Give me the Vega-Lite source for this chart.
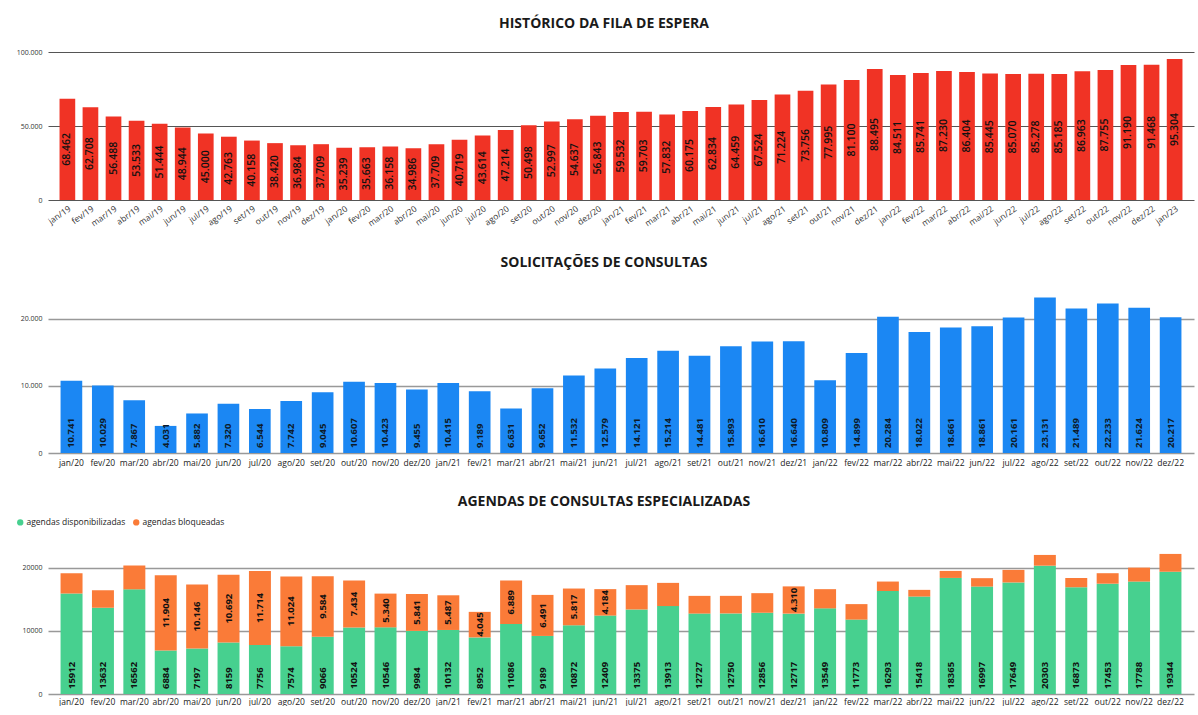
{
  "$schema": "https://vega.github.io/schema/vega-lite/v6.json",
  "background": "white",
  "padding": {"left": 14, "top": 17, "right": 4, "bottom": 0},
  "spacing": 28,
  "resolve": {"scale": {"color": "independent"}, "legend": {"color": "independent"}},
  "config": {
    "locale": {"number": {"decimal": ",", "thousands": ".", "grouping": [3], "currency": ["R$", ""]}},
    "font": "Open Sans",
    "view": {"stroke": null},
    "axis": {"labelFont": "Open Sans", "labelColor": "#333333", "domain": false, "ticks": false, "title": null},
    "title": {"font": "Open Sans", "fontSize": 14, "fontWeight": "bold", "color": "#1a1a1a", "anchor": "middle", "frame": "bounds"}
  },
  "datasets": {
    "fila": [
      {"mes": "jan/19", "total": 68462}, {"mes": "fev/19", "total": 62708}, {"mes": "mar/19", "total": 56488},
      {"mes": "abr/19", "total": 53533}, {"mes": "mai/19", "total": 51444}, {"mes": "jun/19", "total": 48944},
      {"mes": "jul/19", "total": 45000}, {"mes": "ago/19", "total": 42763}, {"mes": "set/19", "total": 40158},
      {"mes": "out/19", "total": 38420}, {"mes": "nov/19", "total": 36984}, {"mes": "dez/19", "total": 37709},
      {"mes": "jan/20", "total": 35239}, {"mes": "fev/20", "total": 35663}, {"mes": "mar/20", "total": 36158},
      {"mes": "abr/20", "total": 34986}, {"mes": "mai/20", "total": 37709}, {"mes": "jun/20", "total": 40719},
      {"mes": "jul/20", "total": 43614}, {"mes": "ago/20", "total": 47214}, {"mes": "set/20", "total": 50498},
      {"mes": "out/20", "total": 52997}, {"mes": "nov/20", "total": 54637}, {"mes": "dez/20", "total": 56843},
      {"mes": "jan/21", "total": 59532}, {"mes": "fev/21", "total": 59703}, {"mes": "mar/21", "total": 57832},
      {"mes": "abr/21", "total": 60175}, {"mes": "mai/21", "total": 62834}, {"mes": "jun/21", "total": 64459},
      {"mes": "jul/21", "total": 67524}, {"mes": "ago/21", "total": 71224}, {"mes": "set/21", "total": 73756},
      {"mes": "out/21", "total": 77995}, {"mes": "nov/21", "total": 81100}, {"mes": "dez/21", "total": 88495},
      {"mes": "jan/22", "total": 84511}, {"mes": "fev/22", "total": 85741}, {"mes": "mar/22", "total": 87230},
      {"mes": "abr/22", "total": 86404}, {"mes": "mai/22", "total": 85445}, {"mes": "jun/22", "total": 85070},
      {"mes": "jul/22", "total": 85278}, {"mes": "ago/22", "total": 85185}, {"mes": "set/22", "total": 86963},
      {"mes": "out/22", "total": 87755}, {"mes": "nov/22", "total": 91190}, {"mes": "dez/22", "total": 91468},
      {"mes": "jan/23", "total": 95304}
    ],
    "solic": [
      {"mes": "jan/20", "total": 10741}, {"mes": "fev/20", "total": 10029}, {"mes": "mar/20", "total": 7867},
      {"mes": "abr/20", "total": 4031}, {"mes": "mai/20", "total": 5882}, {"mes": "jun/20", "total": 7320},
      {"mes": "jul/20", "total": 6544}, {"mes": "ago/20", "total": 7742}, {"mes": "set/20", "total": 9045},
      {"mes": "out/20", "total": 10607}, {"mes": "nov/20", "total": 10423}, {"mes": "dez/20", "total": 9455},
      {"mes": "jan/21", "total": 10415}, {"mes": "fev/21", "total": 9189}, {"mes": "mar/21", "total": 6631},
      {"mes": "abr/21", "total": 9652}, {"mes": "mai/21", "total": 11532}, {"mes": "jun/21", "total": 12579},
      {"mes": "jul/21", "total": 14121}, {"mes": "ago/21", "total": 15214}, {"mes": "set/21", "total": 14481},
      {"mes": "out/21", "total": 15893}, {"mes": "nov/21", "total": 16610}, {"mes": "dez/21", "total": 16640},
      {"mes": "jan/22", "total": 10809}, {"mes": "fev/22", "total": 14899}, {"mes": "mar/22", "total": 20284},
      {"mes": "abr/22", "total": 18022}, {"mes": "mai/22", "total": 18661}, {"mes": "jun/22", "total": 18861},
      {"mes": "jul/22", "total": 20161}, {"mes": "ago/22", "total": 23131}, {"mes": "set/22", "total": 21489},
      {"mes": "out/22", "total": 22233}, {"mes": "nov/22", "total": 21624}, {"mes": "dez/22", "total": 20217}
    ],
    "agendas": [
      {"mes": "jan/20", "tipo": "agendas disponibilizadas", "valor": 15912}, {"mes": "jan/20", "tipo": "agendas bloqueadas", "valor": 3200},
      {"mes": "fev/20", "tipo": "agendas disponibilizadas", "valor": 13632}, {"mes": "fev/20", "tipo": "agendas bloqueadas", "valor": 2800},
      {"mes": "mar/20", "tipo": "agendas disponibilizadas", "valor": 16562}, {"mes": "mar/20", "tipo": "agendas bloqueadas", "valor": 3770},
      {"mes": "abr/20", "tipo": "agendas disponibilizadas", "valor": 6884}, {"mes": "abr/20", "tipo": "agendas bloqueadas", "valor": 11904},
      {"mes": "mai/20", "tipo": "agendas disponibilizadas", "valor": 7197}, {"mes": "mai/20", "tipo": "agendas bloqueadas", "valor": 10146},
      {"mes": "jun/20", "tipo": "agendas disponibilizadas", "valor": 8159}, {"mes": "jun/20", "tipo": "agendas bloqueadas", "valor": 10692},
      {"mes": "jul/20", "tipo": "agendas disponibilizadas", "valor": 7756}, {"mes": "jul/20", "tipo": "agendas bloqueadas", "valor": 11714},
      {"mes": "ago/20", "tipo": "agendas disponibilizadas", "valor": 7574}, {"mes": "ago/20", "tipo": "agendas bloqueadas", "valor": 11024},
      {"mes": "set/20", "tipo": "agendas disponibilizadas", "valor": 9066}, {"mes": "set/20", "tipo": "agendas bloqueadas", "valor": 9584},
      {"mes": "out/20", "tipo": "agendas disponibilizadas", "valor": 10524}, {"mes": "out/20", "tipo": "agendas bloqueadas", "valor": 7434},
      {"mes": "nov/20", "tipo": "agendas disponibilizadas", "valor": 10546}, {"mes": "nov/20", "tipo": "agendas bloqueadas", "valor": 5340},
      {"mes": "dez/20", "tipo": "agendas disponibilizadas", "valor": 9984}, {"mes": "dez/20", "tipo": "agendas bloqueadas", "valor": 5841},
      {"mes": "jan/21", "tipo": "agendas disponibilizadas", "valor": 10132}, {"mes": "jan/21", "tipo": "agendas bloqueadas", "valor": 5487},
      {"mes": "fev/21", "tipo": "agendas disponibilizadas", "valor": 8952}, {"mes": "fev/21", "tipo": "agendas bloqueadas", "valor": 4045},
      {"mes": "mar/21", "tipo": "agendas disponibilizadas", "valor": 11086}, {"mes": "mar/21", "tipo": "agendas bloqueadas", "valor": 6889},
      {"mes": "abr/21", "tipo": "agendas disponibilizadas", "valor": 9189}, {"mes": "abr/21", "tipo": "agendas bloqueadas", "valor": 6491},
      {"mes": "mai/21", "tipo": "agendas disponibilizadas", "valor": 10872}, {"mes": "mai/21", "tipo": "agendas bloqueadas", "valor": 5817},
      {"mes": "jun/21", "tipo": "agendas disponibilizadas", "valor": 12409}, {"mes": "jun/21", "tipo": "agendas bloqueadas", "valor": 4184},
      {"mes": "jul/21", "tipo": "agendas disponibilizadas", "valor": 13375}, {"mes": "jul/21", "tipo": "agendas bloqueadas", "valor": 3850},
      {"mes": "ago/21", "tipo": "agendas disponibilizadas", "valor": 13913}, {"mes": "ago/21", "tipo": "agendas bloqueadas", "valor": 3670},
      {"mes": "set/21", "tipo": "agendas disponibilizadas", "valor": 12727}, {"mes": "set/21", "tipo": "agendas bloqueadas", "valor": 2800},
      {"mes": "out/21", "tipo": "agendas disponibilizadas", "valor": 12750}, {"mes": "out/21", "tipo": "agendas bloqueadas", "valor": 2780},
      {"mes": "nov/21", "tipo": "agendas disponibilizadas", "valor": 12856}, {"mes": "nov/21", "tipo": "agendas bloqueadas", "valor": 3100},
      {"mes": "dez/21", "tipo": "agendas disponibilizadas", "valor": 12717}, {"mes": "dez/21", "tipo": "agendas bloqueadas", "valor": 4310},
      {"mes": "jan/22", "tipo": "agendas disponibilizadas", "valor": 13549}, {"mes": "jan/22", "tipo": "agendas bloqueadas", "valor": 3040},
      {"mes": "fev/22", "tipo": "agendas disponibilizadas", "valor": 11773}, {"mes": "fev/22", "tipo": "agendas bloqueadas", "valor": 2450},
      {"mes": "mar/22", "tipo": "agendas disponibilizadas", "valor": 16293}, {"mes": "mar/22", "tipo": "agendas bloqueadas", "valor": 1500},
      {"mes": "abr/22", "tipo": "agendas disponibilizadas", "valor": 15418}, {"mes": "abr/22", "tipo": "agendas bloqueadas", "valor": 1060},
      {"mes": "mai/22", "tipo": "agendas disponibilizadas", "valor": 18365}, {"mes": "mai/22", "tipo": "agendas bloqueadas", "valor": 1110},
      {"mes": "jun/22", "tipo": "agendas disponibilizadas", "valor": 16997}, {"mes": "jun/22", "tipo": "agendas bloqueadas", "valor": 1330},
      {"mes": "jul/22", "tipo": "agendas disponibilizadas", "valor": 17649}, {"mes": "jul/22", "tipo": "agendas bloqueadas", "valor": 1990},
      {"mes": "ago/22", "tipo": "agendas disponibilizadas", "valor": 20303}, {"mes": "ago/22", "tipo": "agendas bloqueadas", "valor": 1700},
      {"mes": "set/22", "tipo": "agendas disponibilizadas", "valor": 16873}, {"mes": "set/22", "tipo": "agendas bloqueadas", "valor": 1500},
      {"mes": "out/22", "tipo": "agendas disponibilizadas", "valor": 17453}, {"mes": "out/22", "tipo": "agendas bloqueadas", "valor": 1660},
      {"mes": "nov/22", "tipo": "agendas disponibilizadas", "valor": 17788}, {"mes": "nov/22", "tipo": "agendas bloqueadas", "valor": 2210},
      {"mes": "dez/22", "tipo": "agendas disponibilizadas", "valor": 19344}, {"mes": "dez/22", "tipo": "agendas bloqueadas", "valor": 2820}
    ]
  },
  "vconcat": [
    {
      "width": 1146,
      "height": 148,
      "title": {"text": "HISTÓRICO DA FILA DE ESPERA", "offset": 17},
      "data": {"name": "fila"},
      "encoding": {
        "x": {"field": "mes", "type": "nominal", "sort": null,
              "scale": {"paddingInner": 0.32, "paddingOuter": 0.5},
              "axis": {"labelAngle": -35, "labelFontSize": 8.5, "labelPadding": 4, "labelColor": "#333333"}}
      },
      "layer": [
        {
          "mark": {"type": "bar", "color": "#f03325"},
          "encoding": {
            "y": {"field": "total", "type": "quantitative", "scale": {"domain": [0, 100000], "nice": false},
                  "axis": {"values": [0, 50000, 100000], "format": ",d", "labelFontSize": 7, "gridColor": "#555555", "gridWidth": 1, "labelPadding": 6, "minExtent": 34, "maxExtent": 34}}
          }
        },
        {
          "mark": {"type": "text", "angle": 270, "align": "center", "baseline": "middle", "fontSize": 10.5, "fontWeight": 600, "color": "#111111"},
          "encoding": {
            "y": {"field": "total", "type": "quantitative", "stack": "zero", "bandPosition": 0.5},
            "text": {"field": "total", "type": "quantitative", "format": ",d"}
          }
        }
      ]
    },
    {
      "width": 1146,
      "height": 168,
      "title": {"text": "SOLICITAÇÕES DE CONSULTAS", "offset": 15},
      "data": {"name": "solic"},
      "encoding": {
        "x": {"field": "mes", "type": "nominal", "sort": null,
              "scale": {"paddingInner": 0.31, "paddingOuter": 0.4},
              "axis": {"labelAngle": 0, "labelFontSize": 8.5, "labelPadding": 5, "labelColor": "#222222"}}
      },
      "layer": [
        {
          "mark": {"type": "bar", "color": "#1b87f3"},
          "encoding": {
            "y": {"field": "total", "type": "quantitative", "scale": {"domain": [0, 25000], "nice": false},
                  "axis": {"values": [0, 10000, 20000], "format": ",d", "labelFontSize": 7, "gridColor": "#999999", "gridWidth": 1.5, "labelPadding": 6, "minExtent": 34, "maxExtent": 34}}
          }
        },
        {
          "mark": {"type": "text", "angle": 270, "align": "left", "baseline": "middle", "dx": 5, "fontSize": 9.5, "fontWeight": "bold", "color": "#0d1b2a"},
          "encoding": {
            "y": {"datum": 0, "type": "quantitative"},
            "text": {"field": "total", "type": "quantitative", "format": ",d"}
          }
        }
      ]
    },
    {
      "width": 1146,
      "height": 158,
      "title": {"text": "AGENDAS DE CONSULTAS ESPECIALIZADAS", "offset": 9},
      "data": {"name": "agendas"},
      "encoding": {
        "x": {"field": "mes", "type": "nominal", "sort": null,
              "scale": {"paddingInner": 0.3, "paddingOuter": 0.4},
              "axis": {"labelAngle": 0, "labelFontSize": 8.5, "labelPadding": 3, "labelColor": "#222222"}}
      },
      "layer": [
        {
          "mark": {"type": "bar"},
          "encoding": {
            "y": {"field": "valor", "type": "quantitative", "stack": "zero", "scale": {"domain": [0, 25000], "nice": false},
                  "axis": {"values": [0, 10000, 20000], "format": "d", "labelFontSize": 7, "gridColor": "#999999", "gridWidth": 1.5, "labelPadding": 6, "minExtent": 34, "maxExtent": 34}},
            "color": {"field": "tipo", "type": "nominal",
                      "scale": {"domain": ["agendas disponibilizadas", "agendas bloqueadas"], "range": ["#47d08f", "#fa7b38"]},
                      "legend": {"title": null, "orient": "none", "direction": "horizontal", "legendX": -32, "legendY": -18,
                                 "symbolType": "circle", "symbolSize": 40, "labelFontSize": 8.5, "labelColor": "#222222",
                                 "columnPadding": 6, "labelOffset": 2, "symbolStrokeWidth": 0}},
            "order": {"field": "tipo", "sort": "descending"}
          }
        },
        {
          "transform": [{"filter": "datum.tipo == 'agendas disponibilizadas'"}],
          "mark": {"type": "text", "angle": 270, "align": "left", "baseline": "middle", "dx": 5, "fontSize": 9.5, "fontWeight": "bold", "color": "#111111"},
          "encoding": {
            "y": {"datum": 0, "type": "quantitative"},
            "text": {"field": "valor", "type": "quantitative", "format": "d"}
          }
        },
        {
          "mark": {"type": "text", "angle": 270, "align": "center", "baseline": "middle", "fontSize": 9.5, "fontWeight": "bold", "color": "#111111"},
          "encoding": {
            "y": {"field": "valor", "type": "quantitative", "stack": "zero", "bandPosition": 0.5},
            "detail": {"field": "tipo"},
            "order": {"field": "tipo", "sort": "descending"},
            "text": {"condition": {"test": "datum.tipo == 'agendas bloqueadas' && datum.valor >= 4000", "field": "valor", "type": "quantitative", "format": ",d"}, "value": ""}
          }
        }
      ]
    }
  ]
}
